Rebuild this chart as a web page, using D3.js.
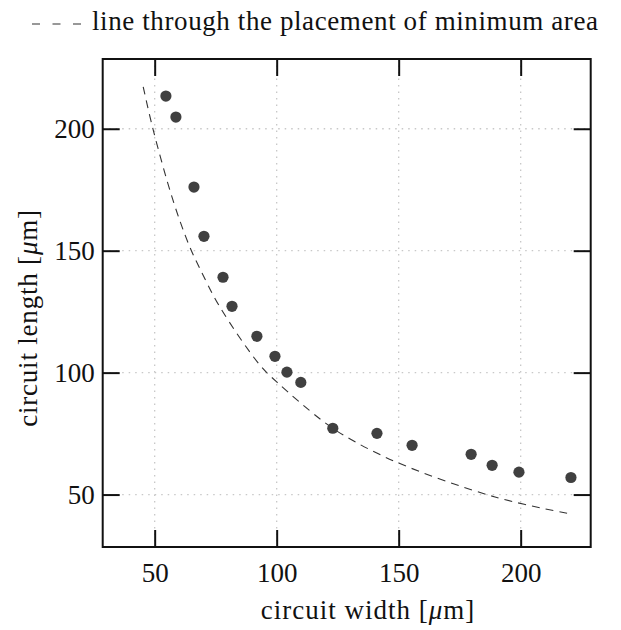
<!DOCTYPE html>
<html>
<head>
<meta charset="utf-8">
<script src="https://cdn.jsdelivr.net/npm/d3@7"></script>
<style>
	body { margin: 0; background: #fff; }
	text { font-family: "Liberation Serif", "DejaVu Serif", serif; fill: #111; }
</style>
</head>
<body>
<div id="chartBox"></div>
<script>
// measured placements (width, length) in µm
var widths = [54.6, 58.7, 66.1, 70.2, 78.0, 81.7, 91.9, 99.3, 104.2, 109.9, 123.0, 141.1, 155.5, 179.7, 188.3, 199.3, 220.6];
var lengths = [213.4, 204.8, 176.1, 155.9, 139.1, 127.2, 114.9, 106.7, 100.2, 96.0, 77.2, 75.1, 70.2, 66.5, 62.0, 59.2, 57.0];

// dashed line
var lineX = [45.3, 49.4, 57.6, 64.2, 68.6, 76.8, 93.2, 100, 117.8, 128.0, 149.8, 189.5, 220.6];
var lineY = [217.2, 199.5, 170.4, 152.0, 142.5, 126.8, 103.0, 96.2, 81.0, 74.0, 63.0, 49.0, 42.0];

var xTicks = [50, 100, 150, 200];
var yTicks = [50, 100, 150, 200];
var legendLabel = 'line through the placement of minimum area';

var width = 621, height = 630;
var margin = {left: 102.7, top: 59, right: 30.3, bottom: 83};

var svg = d3.select('#chartBox').append('svg')
	.attr('width', width)
	.attr('height', height);

var x = d3.scaleLinear()
	.domain([28.7, 228.7])
	.range([margin.left, width - margin.right]);
var y = d3.scaleLinear()
	.domain([28.5, 228.6])
	.range([height - margin.bottom, margin.top]);

var x0 = x.range()[0], x1 = x.range()[1];
var y0 = y.range()[0], y1 = y.range()[1];

// grid
var grid = svg.append('g')
	.attr('stroke', '#c8c8c8')
	.attr('stroke-width', 1.3)
	.attr('stroke-dasharray', '1.5,5');
grid.selectAll('.gx').data(xTicks).enter().append('line')
	.attr('x1', d => x(d)).attr('x2', d => x(d))
	.attr('y1', y1).attr('y2', y0);
grid.selectAll('.gy').data(yTicks).enter().append('line')
	.attr('y1', d => y(d)).attr('y2', d => y(d))
	.attr('x1', x0).attr('x2', x1);

// axes with inner ticks on all four sides
var tickLen = 17;
svg.append('g')
	.attr('transform', 'translate(0,' + y0 + ')')
	.call(d3.axisBottom(x).tickValues(xTicks).tickSize(-tickLen).tickPadding(16).tickSizeOuter(0));
svg.append('g')
	.attr('transform', 'translate(0,' + y1 + ')')
	.call(d3.axisTop(x).tickValues(xTicks).tickSize(-tickLen).tickFormat('').tickSizeOuter(0));
svg.append('g')
	.attr('transform', 'translate(' + x0 + ',0)')
	.call(d3.axisLeft(y).tickValues(yTicks).tickSize(-tickLen).tickPadding(8).tickSizeOuter(0));
svg.append('g')
	.attr('transform', 'translate(' + x1 + ',0)')
	.call(d3.axisRight(y).tickValues(yTicks).tickSize(-tickLen).tickFormat('').tickSizeOuter(0));

svg.selectAll('.domain').remove();
svg.selectAll('.tick line').attr('stroke', '#111').attr('stroke-width', 2);
svg.selectAll('.tick text')
	.style('font-family', '"Liberation Serif", serif')
	.style('font-size', '27px')
	.attr('fill', '#111');

// frame
svg.append('rect')
	.attr('x', x0).attr('y', y1)
	.attr('width', x1 - x0).attr('height', y0 - y1)
	.attr('fill', 'none')
	.attr('stroke', '#111')
	.attr('stroke-width', 2);

// dashed line
var lineData = lineX.map((d, i) => [d, lineY[i]]);
svg.append('path')
	.datum(lineData)
	.attr('fill', 'none')
	.attr('stroke', '#333')
	.attr('stroke-width', 1.1)
	.attr('stroke-dasharray', '8,6')
	.attr('d', d3.line().x(d => x(d[0])).y(d => y(d[1])).curve(d3.curveCatmullRom.alpha(0.5)));

// points
svg.append('g').selectAll('circle')
	.data(widths)
	.enter()
	.append('circle')
	.attr('cx', d => x(d))
	.attr('cy', (d, i) => y(lengths[i]))
	.attr('r', 5.6)
	.attr('fill', '#404040');

// axis labels
var xl = svg.append('text')
	.attr('x', 368)
	.attr('y', 619)
	.attr('text-anchor', 'middle')
	.style('font-size', '27px')
	.style('letter-spacing', '1px');
xl.append('tspan').text('circuit width [');
xl.append('tspan').style('font-style', 'italic').text('μ');
xl.append('tspan').text('m]');

var yl = svg.append('text')
	.attr('transform', 'translate(37,318) rotate(-90)')
	.attr('text-anchor', 'middle')
	.style('font-size', '27px')
	.style('letter-spacing', '0.8px');
yl.append('tspan').text('circuit length [');
yl.append('tspan').style('font-style', 'italic').text('μ');
yl.append('tspan').text('m]');

// legend
svg.append('line')
	.attr('x1', 32).attr('x2', 81)
	.attr('y1', 24).attr('y2', 24)
	.attr('stroke', '#333')
	.attr('stroke-width', 1.2)
	.attr('stroke-dasharray', '8,12.5');
svg.append('text')
	.attr('x', 92)
	.attr('y', 30)
	.style('font-size', '27px')
	.style('letter-spacing', '0.6px')
	.text(legendLabel);
</script>
</body>
</html>
